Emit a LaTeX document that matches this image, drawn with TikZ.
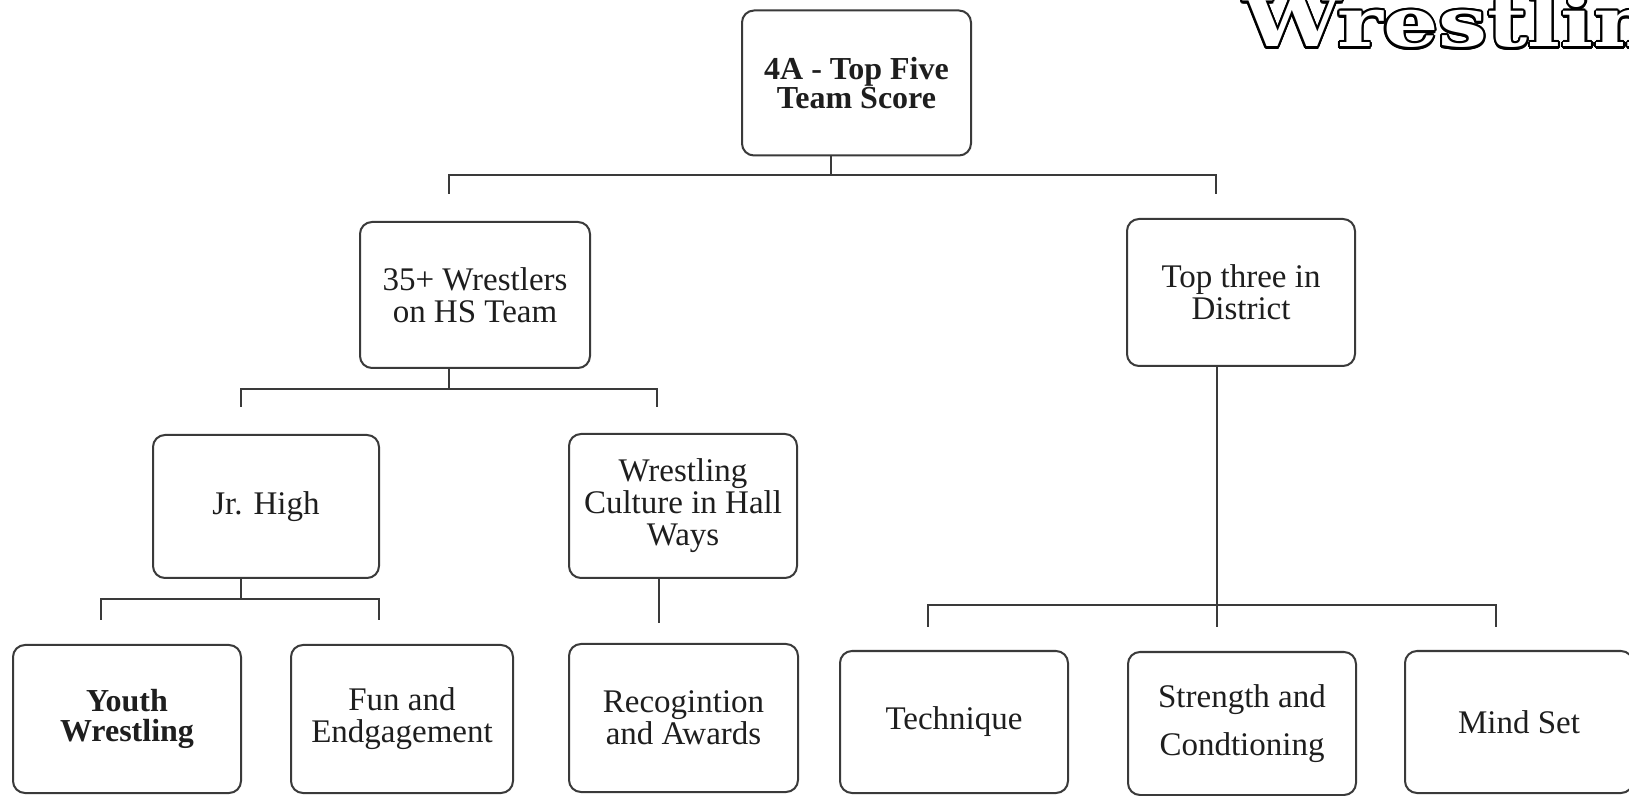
\documentclass[tikz,border=0pt]{standalone}
\usepackage{fontspec}
\setmainfont{Liberation Serif}
\newfontfamily\headfont[FakeStretch=1.28]{DejaVu Serif}
\usepackage{contour}
\contourlength{1.1pt}
\definecolor{linec}{HTML}{3A3A3A}
\definecolor{txtc}{HTML}{1E1E1E}
\AtBeginDocument{\lineskiplimit=-20pt\relax}
\begin{document}
\begin{tikzpicture}[x=0.5pt,y=-0.5pt,
  box/.style={draw=linec, line width=1pt, rounded corners=6pt, align=center,
    inner sep=0pt, text=txtc, font=\fontsize{16.5}{16}\selectfont},
  conn/.style={draw=linec, line width=0.8pt}]
\useasboundingbox (0,0) rectangle (1629,796);
\clip (0,0) rectangle (1629,796);
\fill[white] (0,0) rectangle (1629,796);

% title
\node[anchor=base west, inner sep=0pt] (title) at (1243,47)
  {\headfont\bfseries\fontsize{34}{34}\selectfont\color{white}\contour{black}{Wrestling}};

% boxes
\node[box, minimum width=114.5pt, minimum height=72.5pt,
  font=\bfseries\fontsize{16}{14.5}\selectfont] (top) at (856.5,83) {4A - Top Five\\Team Score};
\node[box, minimum width=115pt, minimum height=73pt] (ws) at (475,295) {35+ Wrestlers\\on HS Team};
\node[box, minimum width=114pt, minimum height=73.5pt] (t3) at (1241,292.5) {Top three in\\District};
\node[box, minimum width=113pt, minimum height=71.5pt] (jr) at (266,506.5) {Jr. High};
\node[box, minimum width=114pt, minimum height=72pt] (cul) at (683,506) {Wrestling\\Culture in Hall\\Ways};
\node[box, minimum width=114pt, minimum height=74pt,
  font=\bfseries\fontsize{16}{15}\selectfont] (yw) at (127,719) {Youth\\Wrestling};
\node[box, minimum width=111pt, minimum height=74pt] (fun) at (402,719) {Fun and\\Endgagement};
\node[box, minimum width=114.5pt, minimum height=74pt] (rec) at (683.5,718) {Recogintion\\and Awards};
\node[box, minimum width=114pt, minimum height=71pt] (tech) at (954,722) {Technique};
\node[box, minimum width=114pt, minimum height=71.5pt,
  font=\fontsize{16.5}{24}\selectfont] (str) at (1242,723.5) {Strength and\\Condtioning};
\node[box, minimum width=114pt, minimum height=71pt] (mind) at (1519,722) {Mind Set};

% junction coordinates
\coordinate (j1) at (831,175);
\coordinate (l1) at (449,194);
\coordinate (r1) at (1216,194);
\coordinate (j2) at (449,389);
\coordinate (l2) at (241,407);
\coordinate (r2) at (657,407);
\coordinate (j3) at (241,599);
\coordinate (l3) at (101,620);
\coordinate (r3) at (379,620);
\coordinate (c4) at (659,623);
\coordinate (j5) at (1217,605);
\coordinate (l5) at (928,627);
\coordinate (m5) at (1217,627);
\coordinate (r5) at (1496,627);

% connectors
\draw[conn] (top.south -| j1) -- (j1);
\draw[conn] (l1) |- (j1) -| (r1);
\draw[conn] (ws.south -| j2) -- (j2);
\draw[conn] (l2) |- (j2) -| (r2);
\draw[conn] (jr.south -| j3) -- (j3);
\draw[conn] (l3) |- (j3) -| (r3);
\draw[conn] (cul.south -| c4) -- (c4);
\draw[conn] (t3.south -| j5) -- (m5);
\draw[conn] (l5) |- (j5) -| (r5);
\end{tikzpicture}
\end{document}
